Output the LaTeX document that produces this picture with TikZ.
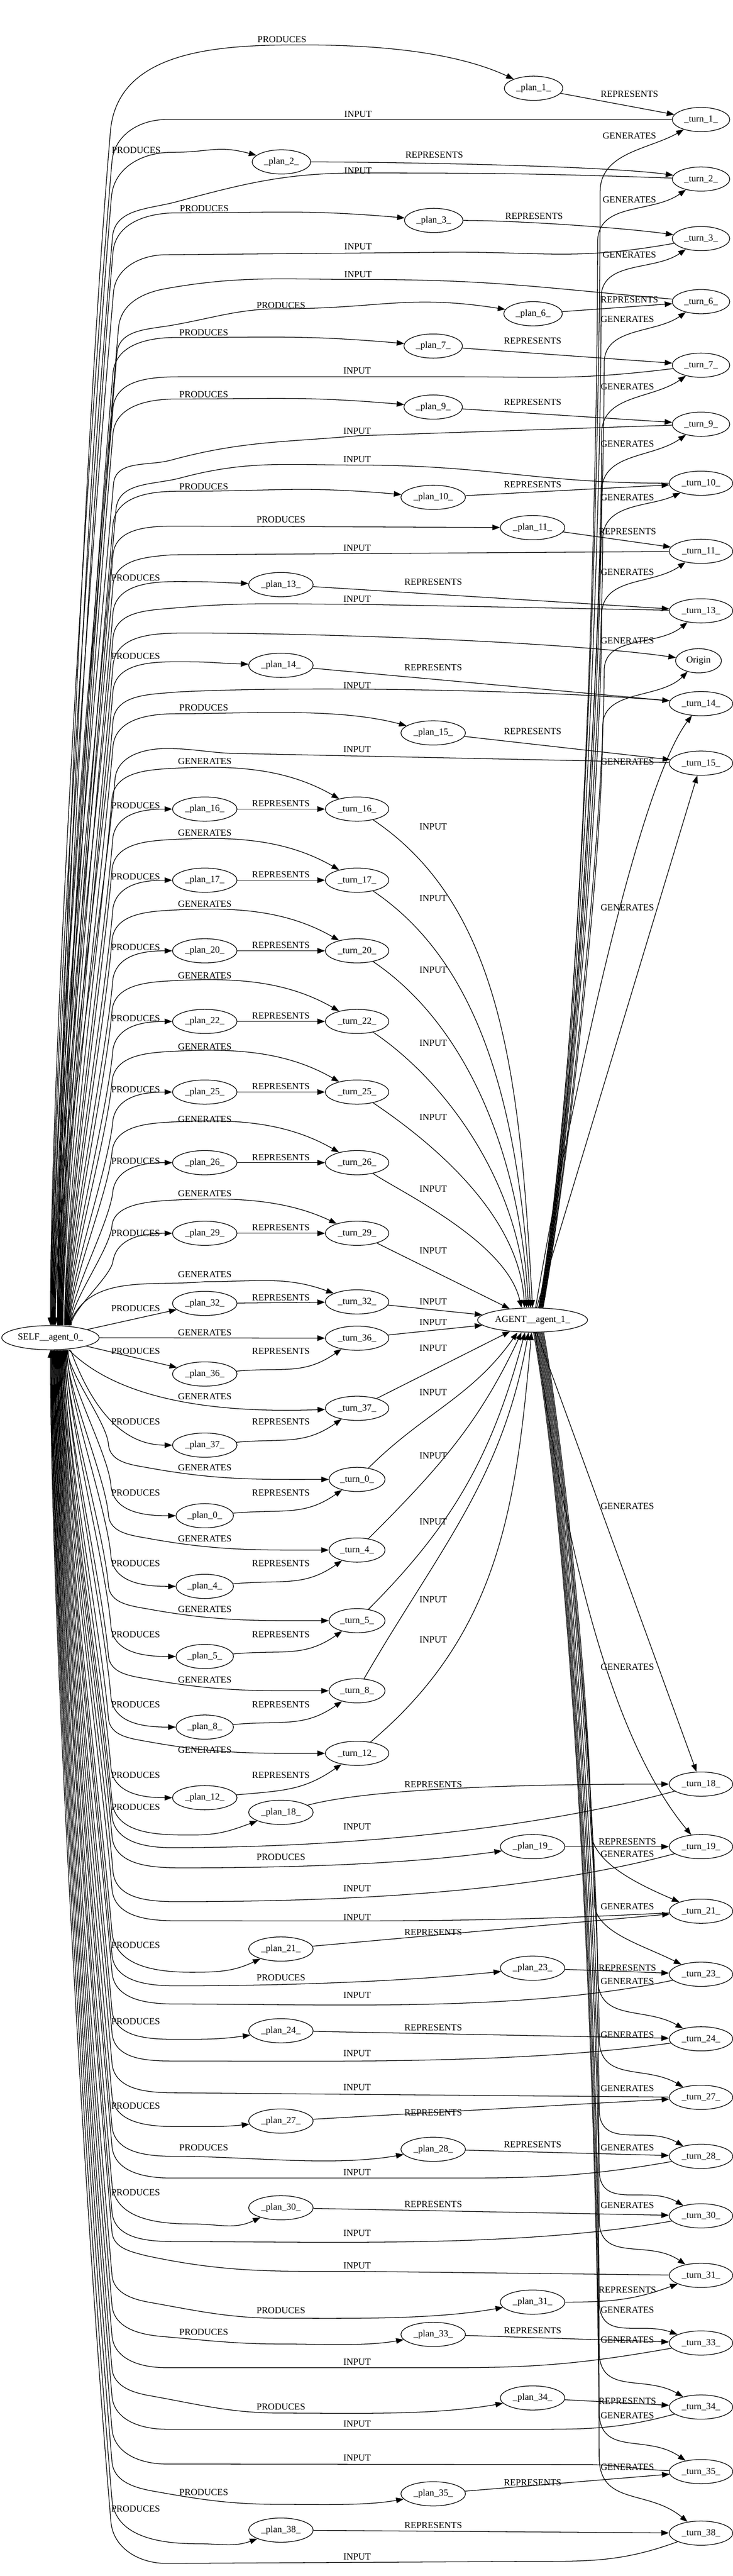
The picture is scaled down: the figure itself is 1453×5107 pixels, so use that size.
\documentclass[tikz,border=0pt]{standalone}
\usepackage{fontspec}
\setmainfont{Liberation Serif}
\usetikzlibrary{shapes.geometric,arrows.meta}
\pgfdeclarelayer{bg}
\pgfsetlayers{bg,main}
\tikzset{
  ed/.style={line width=1.3pt,-{Triangle[length=15pt,width=11pt]}},
  er/.style={line width=1.3pt,{Triangle[length=15pt,width=11pt]}-},
  nd/.style={ellipse,draw,line width=1.3pt,fill=white,inner sep=0pt,minimum height=48pt},
  lab/.style={inner sep=0pt},
}
\newcommand\SU[6]{\draw[#1] ([xshift=#2]self.north) .. controls +(0,{-0.235*(2628-#4)}) and +({-0.02*(2628-#4)},{0.235*(2628-#4)}) .. (#3,#4) #5 (#6);}
\newcommand\SD[6]{\draw[#1] ([xshift=#2]self.south) .. controls +(0,{0.235*(#4-2676)}) and +({-0.02*(#4-2676)},{-0.235*(#4-2676)}) .. (#3,#4) #5 (#6);}
\newcommand\AU[5]{\draw[ed] ([xshift=#1]agent.north) .. controls +({0.041*(2593-#3)},{-0.231*(2593-#3)}) and +(0,{0.235*(2593-#3)}) .. (#2,#3) #4 (#5);}
\newcommand\AD[5]{\draw[ed] ([xshift=#1]agent.south) .. controls +({0.041*(#3-2641)},{0.231*(#3-2641)}) and +(0,{-0.235*(#3-2641)}) .. (#2,#3) #4 (#5);}
\begin{document}
\begin{tikzpicture}[x=1pt,y=-1pt,font=\fontsize{18.5pt}{22pt}\selectfont]
\useasboundingbox (0,0) rectangle (1453,5107);
% ---------- nodes
\node[nd,minimum width=193] (self) at (100,2652) {SELF\_\_agent\_0\_};
\node[nd,minimum width=218] (agent) at (1056,2617) {AGENT\_\_agent\_1\_};
\node[nd,minimum width=91] (origin) at (1385,1310) {Origin};
\foreach \k/\y/\w in {1/237/114, 2/355/114, 3/473/114, 6/598/114, 7/724/114, 9/841/114, 10/958/126, 11/1093/126, 13/1211/126, 14/1395/126, 15/1513/126, 18/3537/126, 19/3661/126, 21/3789/126, 23/3914/126, 24/4042/126, 27/4158/126, 28/4275/126, 30/4393/126, 31/4511/126, 33/4645/126, 34/4772/126, 35/4900/126, 38/5022/126}
  \node[nd,minimum width=\w] (turn\k) at (1390,\y) {\_turn\_\k\_};
\foreach \k/\x/\y/\w in {1/1058/175/116, 2/558/321/116, 3/860/437/116, 6/1057/622/116, 7/859/686/116, 9/859/807/116, 10/859/986/128, 11/1056/1046/128, 13/557/1159/128, 14/557/1319/128, 15/859/1453/128, 18/557/3593/128, 19/1056/3661/128, 21/557/3864/128, 23/1056/3902/128, 24/557/4026/128, 27/557/4205/128, 28/859/4261/128, 30/557/4377/128, 31/1056/4564/128, 33/859/4628/128, 34/1056/4754/128, 35/859/4944/128, 38/557/5016/128}
  \node[nd,minimum width=\w] (plan\k) at (\x,\y) {\_plan\_\k\_};
\foreach \k/\yt/\yp/\wp/\wt in {16/1604/1604/128/126, 17/1745/1745/128/126, 20/1885/1885/128/126, 22/2025/2025/128/126, 25/2165/2165/128/126, 26/2305/2305/128/126, 29/2445/2445/128/126, 32/2581/2584/128/126, 36/2653/2724/128/126, 37/2792/2865/128/126, 0/2933/3005/114/111, 4/3073/3145/114/111, 5/3213/3284/114/111, 8/3352/3424/114/111, 12/3476/3564/128/126}{
  \node[nd,minimum width=\wp] (plan\k) at (406,\yp) {\_plan\_\k\_};
  \node[nd,minimum width=\wt] (turn\k) at (708,\yt) {\_turn\_\k\_};
}
% ---------- labels
\foreach \x/\y [count=\i] in {559/78, 270/298, 405/413, 557/605, 404/659, 404/782, 404/965, 557/1030, 269/1146, 269/1301, 404/1403, 269/1597, 269/1738, 269/1878, 269/2019, 269/2160, 269/2302, 269/2445, 269/2594, 269/2679, 269/2819, 269/2960, 269/3100, 269/3240, 269/3379, 269/3519, 269/3583, 557/3682, 269/3856, 557/3921, 269/4008, 269/4175, 404/4258, 269/4347, 557/4581, 404/4623, 557/4772, 404/4941, 269/4974}
  \node[lab] (lp\i) at (\x,\y) {PRODUCES};
\foreach \x/\y [count=\i] in {1248/187, 861/307, 1059/429, 1248/594, 1056/676, 1056/797, 1056/961, 1244/1054, 859/1154, 859/1323, 1056/1450, 557/1593, 557/1734, 557/1874, 557/2014, 557/2154, 557/2295, 557/2434, 557/2572, 557/2679, 557/2819, 557/2960, 557/3100, 557/3240, 557/3379, 557/3519, 859/3538, 1244/3651, 859/3831, 1244/3901, 859/4020, 859/4188, 1056/4252, 859/4370, 1244/4540, 1056/4620, 1244/4760, 1056/4922, 859/5006}
  \node[lab] (lr\i) at (\x,\y) {REPRESENTS};
\foreach \x/\y [count=\i] in {710/226, 710/339, 710/489, 710/544, 708/735, 708/855, 708/911, 708/1086, 708/1188, 708/1359, 708/1486, 859/1639, 859/1781, 859/1923, 859/2068, 859/2215, 859/2357, 859/2480, 859/2581, 859/2622, 859/2673, 859/2760, 859/2886, 859/3017, 859/3171, 859/3251, 708/3621, 708/3744, 708/3801, 708/3955, 708/4071, 708/4138, 708/4307, 708/4427, 708/4492, 708/4683, 708/4805, 708/4873, 708/5069}
  \node[lab] (li\i) at (\x,\y) {INPUT};
\foreach \x/\y [count=\i] in {1248/269, 1248/396, 1248/505, 1244/633, 1244/767, 1244/880, 1244/986, 1244/1134, 1244/1270, 1244/1510, 1244/1799, 1244/2986, 1244/3305, 1244/3676, 1244/3780, 1244/3928, 1244/4034, 1244/4140, 1244/4258, 1244/4372, 1244/4579, 1244/4639, 1244/4789, 1244/4891, 406/1509, 406/1651, 406/1792, 406/1934, 406/2075, 406/2219, 406/2366, 406/2527, 406/2642, 406/2769, 406/2910, 406/3050, 406/3190, 406/3330, 406/3469}
  \node[lab] (lg\i) at (\x,\y) {GENERATES};
% ---------- edges
\begin{pgfonlayer}{bg}
\fill[white] (0,0) rectangle (1453,5107);
% top group, SELF side
\SU{ed}{14}{219}{260}{.. controls +(14,-161) and +(-162,0) .. (596,89) .. controls +(128,0) and +(-166,-77) ..}{plan1}
\SU{er}{0}{222}{320}{.. controls +(5,-53) and +(-53,0) .. (330,237) --}{turn1}
\SU{ed}{15}{221}{390}{.. controls +(5,-58) and +(-58,0) .. (340,302) .. controls +(78,0) and +(-128,-34) ..}{plan2}
\SU{er}{1}{223}{470}{.. controls +(5,-57) and +(-55,15) .. (350,400) .. controls +(137,-37) and +(-142,0) .. (710,343) .. controls +(265,0) and +(-322,-11) ..}{turn2}
\SU{ed}{16}{224}{500}{.. controls +(5,-58) and +(-58,0) .. (350,422) .. controls +(199,0) and +(-256,-22) ..}{plan3}
\SU{er}{2}{225}{580}{.. controls +(4,-50) and +(-50,0) .. (330,505) -- (900,500) .. controls +(191,0) and +(-244,43) ..}{turn3}
\SU{er}{3}{235}{650}{.. controls +(4,-48) and +(-47,8) .. (330,572) .. controls +(146,-26) and +(-148,0) .. (710,554) .. controls +(265,0) and +(-321,-28) ..}{turn6}
\SU{ed}{17}{232}{700}{.. controls +(4,-47) and +(-46,8) .. (340,645) .. controls +(86,-15) and +(-87,0) .. (560,612) .. controls +(194,0) and +(-249,-39) ..}{plan6}
\SU{ed}{18}{224}{740}{.. controls +(5,-57) and +(-57,0) .. (350,669) .. controls +(199,0) and +(-256,-22) ..}{plan7}
\SU{er}{4}{224}{810}{.. controls +(5,-59) and +(-59,0) .. (360,747) -- (900,747) .. controls +(191,0) and +(-246,30) ..}{turn7}
\SU{ed}{19}{224}{860}{.. controls +(5,-56) and +(-56,0) .. (350,791) .. controls +(199,0) and +(-256,-22) ..}{plan9}
\SU{er}{5}{225}{960}{.. controls +(4,-49) and +(-47,13) .. (340,912) .. controls +(140,-38) and +(-144,13) .. (708,864) --}{turn9}
\SU{er}{6}{230}{1010}{.. controls +(5,-56) and +(-54,15) .. (360,947) .. controls +(131,-35) and +(-136,0) .. (708,922) .. controls +(266,0) and +(-329,0) ..}{turn10}
\SU{ed}{20}{224}{1040}{.. controls +(5,-55) and +(-55,0) .. (350,974) .. controls +(199,0) and +(-262,-23) ..}{plan10}
\SU{ed}{21}{224}{1100}{.. controls +(5,-54) and +(-54,0) .. (350,1043) --}{plan11}
\SU{er}{7}{224}{1160}{.. controls +(4,-51) and +(-51,4) .. (340,1100) --}{turn11}
\SU{ed}{22}{224}{1215}{.. controls +(5,-55) and +(-55,0) .. (350,1153) .. controls +(81,0) and +(-145,-5) ..}{plan13}
\SU{er}{8}{224}{1265}{.. controls +(5,-55) and +(-55,5) .. (350,1205) .. controls +(139,-12) and +(-140,0) .. (708,1198) --}{turn13}
\SU{ed}{23}{224}{1320}{.. controls +(6,-66) and +(-66,0) .. (380,1255) .. controls +(235,0) and +(-277,-39) ..}{origin}
\SU{ed}{24}{224}{1370}{.. controls +(5,-54) and +(-54,0) .. (350,1312) .. controls +(81,0) and +(-145,-5) ..}{plan14}
\SU{er}{9}{224}{1430}{.. controls +(5,-54) and +(-54,5) .. (350,1372) .. controls +(243,-13) and +(-305,-27) ..}{turn14}
\SU{ed}{25}{224}{1480}{.. controls +(5,-55) and +(-55,0) .. (350,1415) .. controls +(139,0) and +(-190,-51) ..}{plan15}
\SU{er}{10}{228}{1545}{.. controls +(4,-46) and +(-46,0) .. (330,1484) .. controls +(59,0) and +(-59,0) .. (480,1494) --}{turn15}
% top REPRESENTS
\draw[ed] (plan1) -- (turn1);
\draw[ed] (plan2) .. controls +(198,0) and +(-195,-27) .. (turn2);
\draw[ed] (plan3) .. controls +(161,0) and +(-158,-22) .. (turn3);
\draw[ed] (plan6) -- (turn6);
\draw[ed] (plan7) -- (turn7);
\draw[ed] (plan9) -- (turn9);
\draw[ed] (plan10) -- (turn10);
\draw[ed] (plan11) -- (turn11);
\draw[ed] (plan13) -- (turn13);
\draw[ed] (plan14) -- (turn14);
\draw[ed] (plan15) -- (turn15);
% top GENERATES from AGENT
\AU{12}{1190}{380}{.. controls +(0,-78) and +(-102,59) ..}{turn1}
\AU{13}{1185}{480}{.. controls +(0,-80) and +(-98,69) ..}{turn2}
\AU{14}{1192}{590}{.. controls +(0,-74) and +(-93,65) ..}{turn3}
\AU{15}{1198}{720}{.. controls +(0,-72) and +(-92,64) ..}{turn6}
\AU{16}{1193}{860}{.. controls +(0,-78) and +(-97,68) ..}{turn7}
\AU{17}{1193}{975}{.. controls +(0,-78) and +(-97,68) ..}{turn9}
\AU{18}{1195}{1070}{.. controls +(0,-74) and +(-103,48) ..}{turn10}
\AU{19}{1193}{1220}{.. controls +(0,-78) and +(-97,68) ..}{turn11}
\AU{20}{1198}{1330}{.. controls +(0,-72) and +(-86,72) ..}{turn13}
\AU{21}{1195}{1440}{.. controls +(0,-74) and +(-77,77) ..}{origin}
\draw[ed] ([xshift=6]agent.north) .. controls +(58,-343) and +(-130,170) .. (turn14);
\draw[ed] ([xshift=8]agent.north) -- (turn15);
% middle group, upper rows
\foreach \k/\Y/\xs/\xp/\xa/\ax/\ay/\bx/\by in {16/1604/28/29/0/290/195/-25/-450, 17/1745/30/31/-4/249/168/-22/-386, 20/1885/32/33/-8/208/140/-18/-322, 22/2025/34/35/-12/167/112/-14/-258, 25/2165/36/37/-16/125/84/-11/-195, 26/2305/38/39/-22/84/57/-30/-131}{
  \draw[ed] ([xshift=\xs]self.north) .. controls +(0,{-0.235*(2648-\Y)}) and +({-0.02*(2648-\Y)},{0.235*(2648-\Y)}) .. (222,\Y-20) .. controls +(4,-49) and +(-49,3) .. (330,\Y-80) .. controls +(120,-7) and +(-148,-85) .. (turn\k);
  \draw[ed] ([xshift=\xp]self.north) .. controls +(0,{-0.235*(2573-\Y)}) and +({-0.02*(2573-\Y)},{0.235*(2573-\Y)}) .. (224,\Y+55) .. controls +(9,-50) and +(-115,0) .. (plan\k);
  \draw[ed] (plan\k) -- (turn\k);
  \draw[ed] (turn\k) .. controls +(\ax,\ay) and +(\bx,\by) .. ([xshift=\xa]agent.north);
}
\draw[ed] ([xshift=40]self.north) .. controls +(0,-48) and +(-4,48) .. (222,2430) .. controls +(4,-40) and +(-45,3) .. (330,2380) .. controls +(120,-7) and +(-148,-70) .. (turn29);
\draw[ed] ([xshift=41]self.north) .. controls +(0,-30) and +(-3,30) .. (224,2500) .. controls +(9,-50) and +(-115,0) .. (plan29);
\draw[ed] (plan29) -- (turn29);
\draw[ed] (turn29) -- (agent);
% middle rows near SELF
\draw[ed] ([xshift=37]self.north) .. controls +(38,-103) and +(-110,10) .. (406,2541) .. controls +(101,0) and +(-142,-52) .. (turn32);
\draw[ed] (self) -- (plan32);
\draw[ed] (plan32) -- (turn32);
\draw[ed] (turn32) -- (agent);
\draw[ed] (self) -- (turn36);
\draw[ed] (self) -- (plan36);
\draw[ed] (plan36) .. controls +(155,-14) and +(-106,74) .. (turn36);
\draw[ed] (turn36) -- (agent);
\draw[ed] ([xshift=37]self.south) .. controls +(115,115) and +(-225,8) .. (turn37);
\draw[ed] ([xshift=40]self.south) .. controls +(37,101) and +(-172,0) .. (plan37);
\draw[ed] (plan37) .. controls +(155,-14) and +(-106,74) .. (turn37);
\draw[ed] (turn37) -- (agent);
% middle group, lower rows
\foreach \k/\Yt/\Yp/\xg/\xp/\xa/\ax/\ay/\bx/\by in {0/2933/3005/34/35/-30/131/-131/-90/128, 4/3073/3145/32/33/-22/162/-162/-84/180, 5/3213/3284/30/31/-15/195/-195/-64/238, 8/3352/3424/28/29/-8/162/-280/-52/293, 12/3476/3564/26/27/-2/284/-239/-30/340}{
  \draw[ed] ([xshift=\xg]self.south) .. controls +(0,{0.235*(\Yt-2746)}) and +({-0.02*(\Yt-2746)},{-0.235*(\Yt-2746)}) .. (215,\Yt-70) .. controls +(3,38) and +(-37,-7) .. (300,\Yt-22) .. controls +(135,24) and +(-193,0) .. (turn\k);
  \draw[ed] ([xshift=\xp]self.south) .. controls +(0,{0.235*(\Yp-2736)}) and +({-0.02*(\Yp-2736)},{-0.235*(\Yp-2736)}) .. (220,\Yp-60) .. controls +(5,56) and +(-113,0) .. (plan\k);
  \draw[ed] (plan\k) .. controls +(155,-14) and +(-106,74) .. (turn\k);
  \draw[ed] (turn\k) .. controls +(\ax,\ay) and +(\bx,\by) .. ([xshift=\xa]agent.south);
}
% bottom group, SELF side
\SD{ed}{25}{222}{3570}{.. controls +(6,67) and +(-67,0) .. (380,3638) .. controls +(55,0) and +(-99,36) ..}{plan18}
\SD{er}{24}{222}{3600}{.. controls +(5,52) and +(-52,0) .. (340,3663) .. controls +(312,0) and +(-357,96) ..}{turn18}
\SD{ed}{23}{222}{3640}{.. controls +(5,59) and +(-59,0) .. (360,3703) .. controls +(200,0) and +(-259,36) ..}{plan19}
\SD{er}{22}{224}{3710}{.. controls +(5,55) and +(-55,0) .. (350,3770) .. controls +(309,0) and +(-355,95) ..}{turn19}
\SD{er}{21}{222}{3745}{.. controls +(5,56) and +(-56,0) .. (350,3808) .. controls +(381,0) and +(-443,23) ..}{turn21}
\SD{ed}{20}{222}{3830}{.. controls +(6,69) and +(-69,0) .. (380,3910) .. controls +(55,0) and +(-93,44) ..}{plan21}
\SD{ed}{19}{222}{3875}{.. controls +(5,55) and +(-55,0) .. (350,3937) .. controls +(200,0) and +(-261,27) ..}{plan23}
\SD{er}{18}{222}{3910}{.. controls +(5,56) and +(-56,0) .. (350,3973) .. controls +(306,0) and +(-358,76) ..}{turn23}
\SD{ed}{17}{222}{3985}{.. controls +(5,55) and +(-55,0) .. (350,4043) .. controls +(59,0) and +(-120,17) ..}{plan24}
\SD{er}{16}{222}{4030}{.. controls +(5,55) and +(-55,0) .. (350,4086) .. controls +(306,0) and +(-364,51) ..}{turn24}
\SD{er}{15}{222}{4090}{.. controls +(5,55) and +(-55,0) .. (350,4149) --}{turn27}
\SD{ed}{14}{222}{4155}{.. controls +(5,55) and +(-55,0) .. (350,4216) .. controls +(57,0) and +(-118,12) ..}{plan27}
\SD{ed}{13}{222}{4215}{.. controls +(5,55) and +(-55,0) .. (350,4275) .. controls +(140,0) and +(-199,35) ..}{plan28}
\SD{er}{12}{222}{4255}{.. controls +(5,52) and +(-52,0) .. (340,4318) -- (900,4318) .. controls +(168,0) and +(-227,40) ..}{turn28}
\SD{ed}{11}{222}{4330}{.. controls +(6,69) and +(-69,0) .. (380,4409) .. controls +(55,0) and +(-93,44) ..}{plan30}
\SD{er}{10}{222}{4385}{.. controls +(5,55) and +(-55,0) .. (350,4444) .. controls +(306,0) and +(-362,64) ..}{turn30}
\SD{er}{9}{222}{4425}{.. controls +(3,32) and +(-31,-8) .. (290,4472) .. controls +(159,34) and +(-163,0) .. (708,4503) --}{turn31}
\SD{ed}{8}{222}{4510}{.. controls +(3,37) and +(-36,-6) .. (300,4565) .. controls +(100,18) and +(-102,0) .. (560,4596) .. controls +(137,0) and +(-196,35) ..}{plan31}
\SD{ed}{7}{222}{4570}{.. controls +(4,45) and +(-45,-4) .. (320,4632) .. controls +(94,8) and +(-94,0) .. (560,4647) .. controls +(75,0) and +(-135,24) ..}{plan33}
\SD{er}{6}{222}{4630}{.. controls +(4,49) and +(-49,0) .. (330,4694) -- (900,4694) .. controls +(168,0) and +(-227,40) ..}{turn33}
\SD{ed}{5}{222}{4695}{.. controls +(3,37) and +(-36,-6) .. (300,4750) .. controls +(100,18) and +(-102,0) .. (560,4784) .. controls +(137,0) and +(-196,35) ..}{plan34}
\SD{er}{4}{222}{4750}{.. controls +(4,49) and +(-49,0) .. (330,4816) -- (1080,4816) .. controls +(98,0) and +(-153,41) ..}{turn34}
\SD{er}{3}{222}{4815}{.. controls +(4,50) and +(-50,0) .. (330,4885) -- (1160,4886) .. controls +(65,0) and +(-128,-4) ..}{turn35}
\SD{ed}{2}{222}{4880}{.. controls +(3,38) and +(-37,-7) .. (300,4938) .. controls +(100,18) and +(-102,0) .. (560,4965) .. controls +(75,0) and +(-135,24) ..}{plan35}
\SD{ed}{1}{222}{4955}{.. controls +(6,74) and +(-74,0) .. (390,5043) .. controls +(49,0) and +(-93,34) ..}{plan38}
\SD{er}{0}{220}{5000}{.. controls +(5,53) and +(-53,0) .. (330,5082) -- (1060,5078) .. controls +(113,0) and +(-153,56) ..}{turn38}
% bottom REPRESENTS
\draw[ed] (plan18) .. controls +(205,-55) and +(-213,0) .. (turn18);
\draw[ed] (plan19) -- (turn19);
\draw[ed] (plan21) -- (turn21);
\draw[ed] (plan23) -- (turn23);
\draw[ed] (plan24) -- (turn24);
\draw[ed] (plan27) -- (turn27);
\draw[ed] (plan28) -- (turn28);
\draw[ed] (plan30) -- (turn30);
\draw[ed] (plan31) .. controls +(158,0) and +(-131,48) .. (turn31);
\draw[ed] (plan33) -- (turn33);
\draw[ed] (plan34) -- (turn34);
\draw[ed] (plan35) -- (turn35);
\draw[ed] (plan38) -- (turn38);
% bottom GENERATES from AGENT
\draw[ed] ([xshift=8]agent.south) -- (turn18);
\draw[ed] ([xshift=5]agent.south) .. controls (1110,2980) and (1190,3420) .. (turn19);
\AD{22}{1172}{3630}{.. controls +(0,60) and +(-129,-55) ..}{turn21}
\AD{20}{1178}{3770}{.. controls +(0,60) and +(-120,-60) ..}{turn23}
\AD{18}{1185}{3920}{.. controls +(0,90) and +(-113,-65) ..}{turn24}
\AD{16}{1188}{4040}{.. controls +(0,89) and +(-112,-65) ..}{turn27}
\AD{14}{1188}{4180}{.. controls +(0,85) and +(-108,-63) ..}{turn28}
\AD{12}{1188}{4300}{.. controls +(0,85) and +(-108,-63) ..}{turn30}
\AD{10}{1188}{4400}{.. controls +(0,88) and +(-105,-73) ..}{turn31}
\AD{8}{1188}{4560}{.. controls +(0,85) and +(-122,-44) ..}{turn33}
\AD{6}{1188}{4660}{.. controls +(0,90) and +(-113,-65) ..}{turn34}
\AD{4}{1188}{4780}{.. controls +(0,92) and +(-108,-76) ..}{turn35}
\AD{2}{1188}{4870}{.. controls +(0,99) and +(-105,-88) ..}{turn38}
\end{pgfonlayer}
\end{tikzpicture}
\end{document}
